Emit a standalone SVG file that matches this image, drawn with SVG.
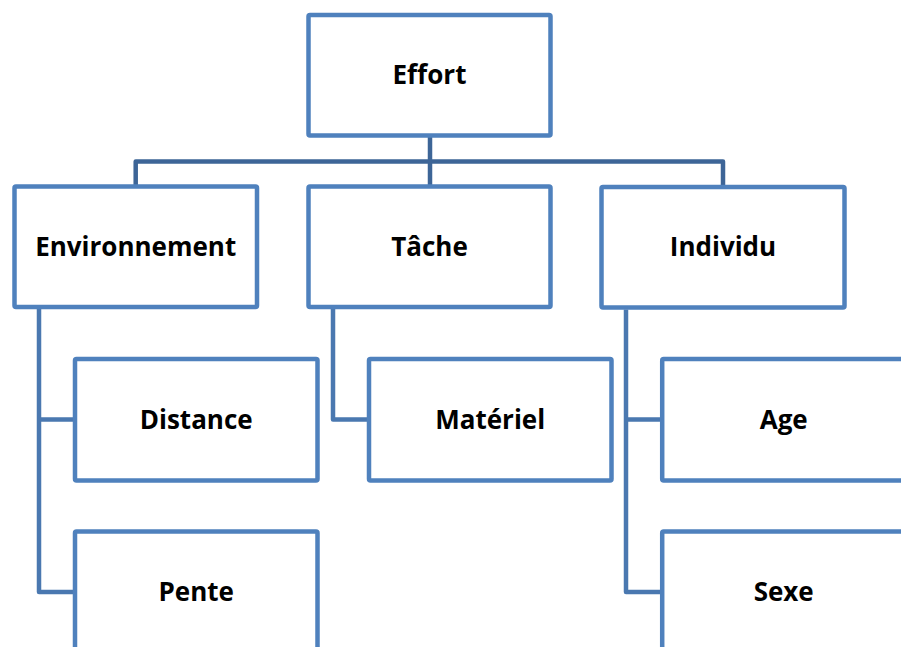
<svg xmlns="http://www.w3.org/2000/svg" width="901" height="647" viewBox="0 0 901 647">
  <style>
    .box { fill: #ffffff; stroke: #4f81bd; stroke-width: 4.5; }
    .bus { fill: none; stroke: #3d6597; stroke-width: 4.5; stroke-linejoin: round; }
    .link { fill: none; stroke: #4a78b0; stroke-width: 4.5; stroke-linejoin: round; }
    .label { font-family: "Open Sans", "Noto Sans", "Liberation Sans", sans-serif; font-weight: bold; font-size: 26px; fill: #000000; text-anchor: middle; }
  </style>
  <rect width="901" height="647" fill="#ffffff"/>

  <!-- connectors -->
  <g id="connectors">
    <path class="bus" d="M430 137 V186 M135.7 186 V161.5 H723 V187"/>
    <path class="link" d="M39 309 V592 H75 M39 419.5 H75"/>
    <path class="link" d="M333 309 V419.5 H369"/>
    <path class="link" d="M626 309.5 V592 H662 M626 419.5 H662"/>
  </g>

  <g id="effort">
    <rect class="box" x="308.5" y="15" width="242" height="120.5" rx="1.5"/>
    <text class="label" x="429.5" y="84">Effort</text>
  </g>

  <g id="environnement">
    <rect class="box" x="14.5" y="186.5" width="242.5" height="120.5" rx="1.5"/>
    <text class="label" x="135.7" y="256">Environnement</text>
  </g>

  <g id="tache">
    <rect class="box" x="308.5" y="186.5" width="242" height="120.5" rx="1.5"/>
    <text class="label" x="429.5" y="256">Tâche</text>
  </g>

  <g id="individu">
    <rect class="box" x="601.5" y="187" width="243" height="120.5" rx="1.5"/>
    <text class="label" x="723" y="256">Individu</text>
  </g>

  <g id="distance">
    <rect class="box" x="75" y="359" width="242.5" height="121.5" rx="1.5"/>
    <text class="label" x="196.2" y="428.8">Distance</text>
  </g>

  <g id="materiel">
    <rect class="box" x="369" y="359" width="242.5" height="121.5" rx="1.5"/>
    <text class="label" x="490.2" y="428.8">Matériel</text>
  </g>

  <g id="pente">
    <rect class="box" x="75" y="531.5" width="242.5" height="121.5" rx="1.5"/>
    <text class="label" x="196.2" y="601.3">Pente</text>
  </g>

  <g id="age">
    <rect class="box" x="662.2" y="359" width="243" height="121.5" rx="1.5"/>
    <text class="label" x="783.7" y="428.8">Age</text>
  </g>

  <g id="sexe">
    <rect class="box" x="662.2" y="531.5" width="243" height="121.5" rx="1.5"/>
    <text class="label" x="783.7" y="601.3">Sexe</text>
  </g>
</svg>
